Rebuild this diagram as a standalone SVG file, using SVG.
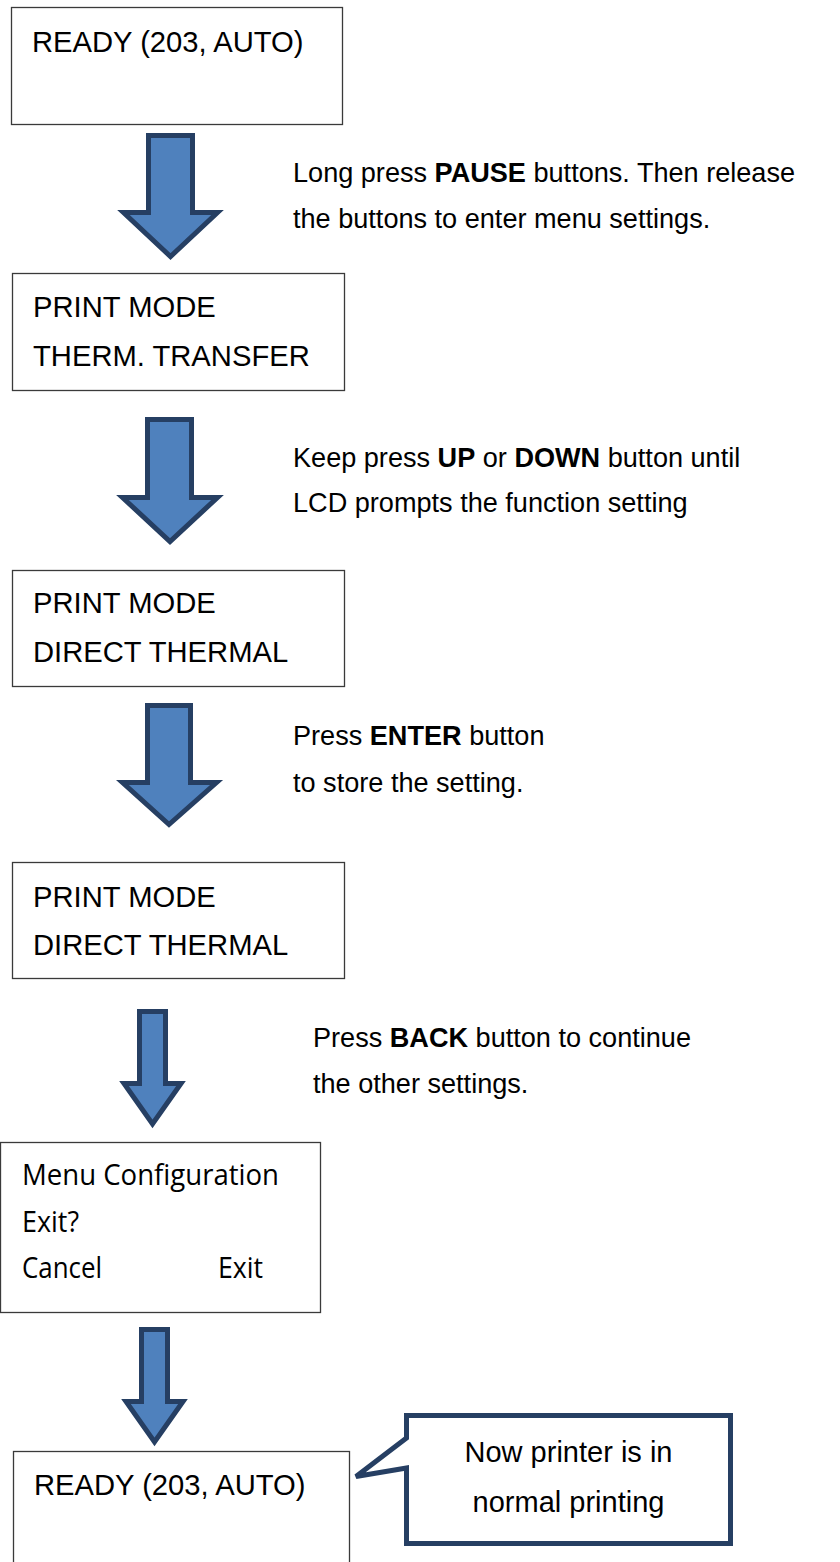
<svg xmlns="http://www.w3.org/2000/svg" width="840" height="1562" viewBox="0 0 840 1562">
<style>
.box{fill:#fff;stroke:#3a3a3a;stroke-width:1.3}
.arr{fill:#4F81BD;stroke:#263F63;stroke-width:5;stroke-linejoin:miter}
.lcd{font-family:"Liberation Sans",Arial,sans-serif;font-size:29.2px;fill:#000}
.note{font-family:"Liberation Sans",Arial,sans-serif;font-size:27.1px;fill:#000}
.cal{font-family:"Open Sans","Noto Sans",sans-serif;font-size:30px;fill:#000}
.call{fill:#fff;stroke:#263F63;stroke-width:5;stroke-linejoin:miter}
.ct{font-family:"Liberation Sans",Arial,sans-serif;font-size:29px;fill:#000;text-anchor:middle}
</style>
<rect width="840" height="1562" fill="#fff"/>
<g id="connectors">
<polygon class="arr" points="148.5,135.5 192.5,135.5 192.5,212.5 217.5,212.5 170.5,256.5 123.5,212.5 148.5,212.5"/>
<polygon class="arr" points="147.5,419.5 191.5,419.5 191.5,497.5 217.5,497.5 170,541.5 122.5,497.5 147.5,497.5"/>
<polygon class="arr" points="147.5,705.5 190.5,705.5 190.5,782.5 216.5,782.5 169,824.5 122.5,782.5 147.5,782.5"/>
<polygon class="arr" points="139.5,1011.5 165.5,1011.5 165.5,1083.5 181,1083.5 152.5,1124 124,1083.5 139.5,1083.5"/>
<polygon class="arr" points="141.5,1329.5 167.5,1329.5 167.5,1401.5 183,1401.5 154.5,1442 126,1401.5 141.5,1401.5"/>
</g>
<g id="n1">
<rect class="box" x="11.5" y="7.5" width="331" height="117"/>
<text class="lcd" x="32" y="52">READY (203, AUTO)</text>
</g>
<g id="t1">
<text class="note" x="293" y="182">Long press <tspan font-weight="bold">PAUSE</tspan> buttons. Then release</text>
<text class="note" x="293" y="228">the buttons to enter menu settings.</text>
</g>
<g id="n2">
<rect class="box" x="12.5" y="273.5" width="332" height="117"/>
<text class="lcd" x="33" y="317">PRINT MODE</text>
<text class="lcd" x="33" y="366">THERM. TRANSFER</text>
</g>
<g id="t2">
<text class="note" x="293" y="467">Keep press <tspan font-weight="bold">UP</tspan> or <tspan font-weight="bold">DOWN</tspan> button until</text>
<text class="note" x="293" y="512">LCD prompts the function setting</text>
</g>
<g id="n3">
<rect class="box" x="12.5" y="570.5" width="332" height="116"/>
<text class="lcd" x="33" y="613">PRINT MODE</text>
<text class="lcd" x="33" y="662">DIRECT THERMAL</text>
</g>
<g id="t3">
<text class="note" x="293" y="745">Press <tspan font-weight="bold">ENTER</tspan> button</text>
<text class="note" x="293" y="792">to store the setting.</text>
</g>
<g id="n4">
<rect class="box" x="12.5" y="862.5" width="332" height="116"/>
<text class="lcd" x="33" y="907">PRINT MODE</text>
<text class="lcd" x="33" y="955">DIRECT THERMAL</text>
</g>
<g id="t4">
<text class="note" x="313" y="1047">Press <tspan font-weight="bold">BACK</tspan> button to continue</text>
<text class="note" x="313" y="1093">the other settings.</text>
</g>
<g id="n5">
<rect class="box" x="0.5" y="1142.5" width="320" height="170"/>
<text class="cal" x="22" y="1185" textLength="257" lengthAdjust="spacingAndGlyphs">Menu Configuration</text>
<text class="cal" x="22" y="1232" textLength="57" lengthAdjust="spacingAndGlyphs">Exit?</text>
<text class="cal" x="22" y="1278" textLength="80" lengthAdjust="spacingAndGlyphs">Cancel</text>
<text class="cal" x="218" y="1278" textLength="45" lengthAdjust="spacingAndGlyphs">Exit</text>
</g>
<g id="n6">
<rect class="box" x="13.5" y="1451.5" width="336" height="130"/>
<text class="lcd" x="34" y="1495">READY (203, AUTO)</text>
</g>
<g id="callout">
<path class="call" d="M406.5,1415.5 H730.5 V1543.5 H406.5 V1468 L356,1476.5 L406.5,1438 Z"/>
<text class="ct" x="568.5" y="1462">Now printer is in</text>
<text class="ct" x="568.5" y="1512">normal printing</text>
</g>
</svg>
